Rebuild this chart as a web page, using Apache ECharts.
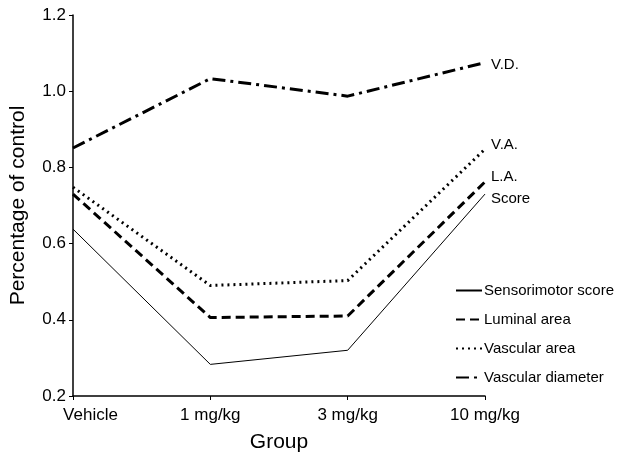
<!DOCTYPE html>
<html>
<head>
<meta charset="utf-8">
<script src="https://cdn.jsdelivr.net/npm/echarts@6/dist/echarts.min.js"></script>
<style>
  html, body { margin: 0; padding: 0; background: #fff; }
  #chart { width: 617px; height: 458px; }
</style>
</head>
<body>
<div id="chart"></div>
<script>
// Dose groups on the x axis
const groups = ['Vehicle', '1 mg/kg', '3 mg/kg', '10 mg/kg'];

// Percentage of control for each measure
const sensorimotorScore = [0.638, 0.283, 0.320, 0.730];
const luminalArea       = [0.730, 0.406, 0.410, 0.762];
const vascularArea      = [0.748, 0.490, 0.503, 0.848];
const vascularDiameter  = [0.851, 1.033, 0.987, 1.075];

// Short names printed at the end of each line
const endNames = ['Score', 'L.A.', 'V.A.', 'V.D.'];

// Y axis ticks
const yMin = 0.2, yMax = 1.2, yStep = 0.2;

const FONT = 'Liberation Sans, Arial, sans-serif';

function lineSeries(name, data, width, dash, endName, dy) {
  return {
    name: name,
    type: 'line',
    data: data,
    symbol: 'none',
    animation: false,
    lineStyle: { color: '#000', width: width, type: dash, cap: 'butt' },
    itemStyle: { color: '#000' },
    endLabel: {
      show: true,
      formatter: endName,
      color: '#000',
      fontFamily: FONT,
      fontSize: 15,
      distance: 6,
      offset: [0, dy]
    },
    emphasis: { disabled: true }
  };
}

const chart = echarts.init(document.getElementById('chart'), null, { renderer: 'canvas' });

chart.setOption({
  backgroundColor: '#fff',
  animation: false,
  grid: { left: 70, right: 132, top: 15, bottom: 59 },
  legend: {
    orient: 'vertical',
    left: 450,
    top: 278,
    itemWidth: 26,
    itemHeight: 14,
    itemGap: 14,
    selectedMode: false,
    itemStyle: { color: 'rgba(0,0,0,0)', borderWidth: 0, opacity: 0 },
    textStyle: { color: '#000', fontFamily: FONT, fontSize: 15, padding: [0, 0, 0, -3] },
    data: ['Sensorimotor score', 'Luminal area', 'Vascular area', 'Vascular diameter']
  },
  xAxis: {
    type: 'category',
    data: groups,
    boundaryGap: false,
    name: 'Group',
    nameLocation: 'middle',
    nameGap: 36,
    nameTextStyle: { color: '#000', fontFamily: FONT, fontSize: 21 },
    axisLine: { lineStyle: { color: '#000', width: 1.5 } },
    axisTick: { show: true, length: 4, alignWithLabel: true, lineStyle: { color: '#000', width: 1 } },
    axisLabel: {
      color: '#000',
      fontFamily: FONT,
      fontSize: 17,
      margin: 11,
      formatter: function (v, i) { return i === 0 ? '{first|' + v + '}' : v; },
      rich: {
        first: { fontFamily: FONT, fontSize: 17, color: '#000', padding: [0, 0, 0, 35] }
      }
    },
    splitLine: { show: false }
  },
  yAxis: {
    type: 'value',
    min: yMin,
    max: yMax,
    interval: yStep,
    name: 'Percentage of control',
    nameLocation: 'middle',
    nameGap: 44,
    nameTextStyle: { color: '#000', fontFamily: FONT, fontSize: 21 },
    axisLine: { show: true, lineStyle: { color: '#000', width: 1.5 } },
    axisTick: { show: true, length: 4, lineStyle: { color: '#000', width: 1 } },
    axisLabel: {
      color: '#000',
      fontFamily: FONT,
      fontSize: 17,
      margin: 7,
      formatter: function (v) { return v.toFixed(1); }
    },
    splitLine: { show: false }
  },
  series: [
    lineSeries('Sensorimotor score', sensorimotorScore, 1, 'solid', endNames[0], 5),
    lineSeries('Luminal area', luminalArea, 3, [9, 5], endNames[1], -5),
    lineSeries('Vascular area', vascularArea, 3, [2, 4], endNames[2], -4),
    lineSeries('Vascular diameter', vascularDiameter, 3, [13, 5, 3, 5], endNames[3], 2)
  ]
});
</script>
</body>
</html>
